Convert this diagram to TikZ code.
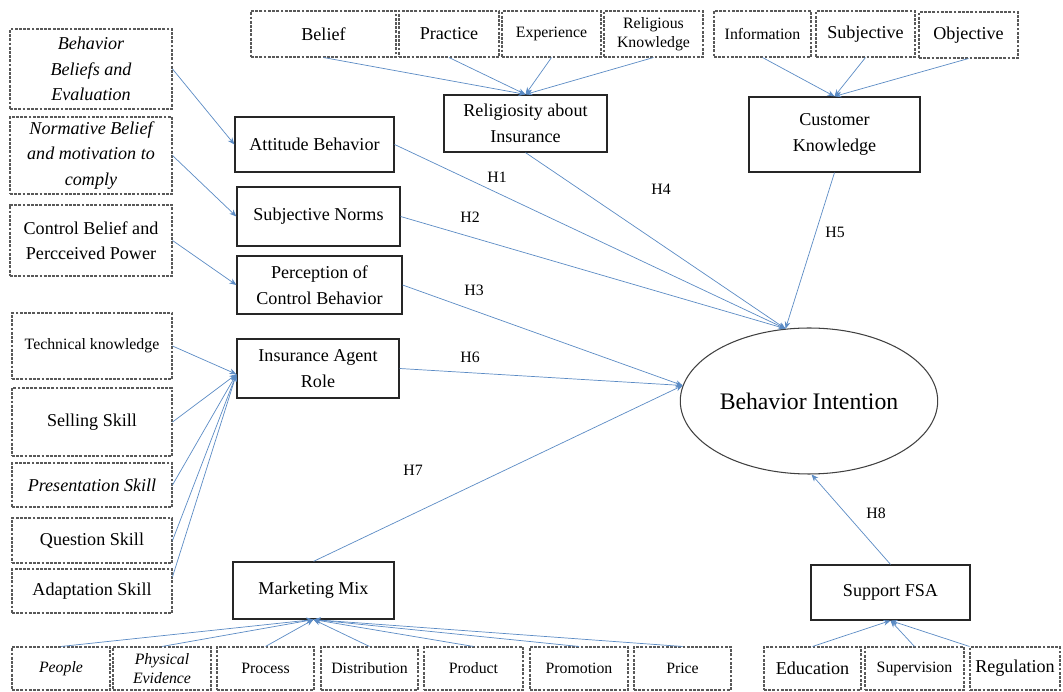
\documentclass[tikz,border=0pt]{standalone}
\usepackage{fontspec}
\setmainfont{Liberation Serif}
\usetikzlibrary{shapes.geometric,arrows.meta}
\definecolor{linkblue}{RGB}{91,139,196}

\begin{document}
\begin{tikzpicture}[x=0.02cm, y=-0.02cm,
        every node/.style={font=\fontsize{10.3}{14.5}\selectfont, align=center, inner sep=1pt},
        dbox/.style={draw=black!65, dashed, dash pattern=on 1.6pt off 0.8pt, line width=0.6pt},
        sbox/.style={draw=black!85, line width=0.7pt},
        itl/.style={font=\fontsize{10.3}{14.5}\selectfont\itshape},
        small/.style={font=\fontsize{9}{11}\selectfont},
        smallit/.style={font=\fontsize{9}{11}\selectfont\itshape},
        hlabel/.style={font=\fontsize{9}{10}\selectfont},
        link/.style={draw=linkblue, line width=0.4pt, -{Stealth[length=4pt, width=3.2pt]}}]
        \useasboundingbox (0,0) rectangle (1063,692);

        \node (bbe) [dbox, itl, minimum width=3.24cm, minimum height=1.6cm] at (91,69) {Behavior\\Beliefs and\\Evaluation};
        \node (nbm) [dbox, itl, minimum width=3.24cm, minimum height=1.54cm] at (91,155.5) {Normative Belief\\and motivation to\\comply};
        \node (cbp) [dbox, minimum width=3.24cm, minimum height=1.42cm] at (91,240.5) {Control Belief and\\Percceived Power};
        \node (tk) [dbox, small, minimum width=3.2cm, minimum height=1.32cm] at (92,346) {Technical knowledge};
        \node (ss) [dbox, minimum width=3.2cm, minimum height=1.36cm] at (92,422) {Selling Skill};
        \node (ps) [dbox, itl, minimum width=3.2cm, minimum height=0.88cm] at (92,485) {Presentation Skill};
        \node (qs) [dbox, minimum width=3.2cm, minimum height=0.9cm] at (92,540.5) {Question Skill};
        \node (as) [dbox, minimum width=3.2cm, minimum height=0.88cm] at (92,591) {Adaptation Skill};

        \node (ab) [sbox, minimum width=3.18cm, minimum height=1.1cm] at (314.5,144.5) {Attitude Behavior};
        \node (sn) [sbox, minimum width=3.26cm, minimum height=1.18cm] at (318.5,216.5) {Subjective Norms};
        \node (pcb) [sbox, minimum width=3.3cm, minimum height=1.16cm] at (319.5,285) {Perception of\\Control Behavior};
        \node (iar) [sbox, minimum width=3.24cm, minimum height=1.18cm] at (318,368.5) {Insurance Agent\\Role};
        \node (mm) [sbox, minimum width=3.22cm, minimum height=1.14cm] at (313.5,590.5) {Marketing Mix};

        \node (belief) [dbox, minimum width=2.9cm, minimum height=0.92cm] at (323.5,34) {Belief};
        \node (practice) [dbox, minimum width=2cm, minimum height=0.92cm] at (449,34) {Practice};
        \node (experience) [dbox, small, minimum width=1.98cm, minimum height=0.92cm] at (551.5,34) {Experience};
        \node (relknow) [dbox, small, minimum width=1.98cm, minimum height=0.92cm] at (653.5,34) {Religious\\Knowledge};
        \node (information) [dbox, small, minimum width=1.94cm, minimum height=0.92cm] at (762.5,34) {Information};
        \node (subjective) [dbox, minimum width=1.98cm, minimum height=0.92cm] at (865.5,34) {Subjective};
        \node (objective) [dbox, minimum width=1.98cm, minimum height=0.92cm] at (968.5,35) {Objective};

        \node (ria) [sbox, minimum width=3.26cm, minimum height=1.14cm] at (525.5,123.5) {Religiosity about\\Insurance};
        \node (ck) [sbox, minimum width=3.42cm, minimum height=1.5cm] at (834.5,134.5) {Customer\\Knowledge};

        \node (bi) [ellipse, draw=black!75, line width=0.6pt, minimum width=4.44cm, minimum height=2.92cm, font=\fontsize{13.5}{16}\selectfont] at (809,401) {Behavior Intention};

        \node (sfsa) [sbox, minimum width=3.18cm, minimum height=1.1cm] at (890.5,592.5) {Support FSA};

        \node (people) [dbox, smallit, minimum width=1.96cm, minimum height=0.86cm] at (61,668.5) {People};
        \node (physev) [dbox, smallit, minimum width=1.96cm, minimum height=0.86cm] at (162,668.5) {Physical\\Evidence};
        \node (process) [dbox, small, minimum width=1.94cm, minimum height=0.86cm] at (265.5,668.5) {Process};
        \node (distribution) [dbox, small, minimum width=1.94cm, minimum height=0.86cm] at (369.5,668.5) {Distribution};
        \node (product) [dbox, small, minimum width=1.98cm, minimum height=0.86cm] at (473.5,668.5) {Product};
        \node (promotion) [dbox, small, minimum width=1.96cm, minimum height=0.86cm] at (579,668.5) {Promotion};
        \node (price) [dbox, small, minimum width=1.94cm, minimum height=0.86cm] at (682.5,668.5) {Price};
        \node (education) [dbox, minimum width=1.94cm, minimum height=0.86cm] at (812.5,668.5) {Education};
        \node (supervision) [dbox, small, minimum width=1.98cm, minimum height=0.86cm] at (914.5,668.5) {Supervision};
        \node (regulation) [dbox, minimum width=1.8cm, minimum height=0.86cm] at (1015,668.5) {Regulation};

        \node (h1) [hlabel] at (497,177) {H1};
        \node (h2) [hlabel] at (470,217) {H2};
        \node (h3) [hlabel] at (474,290) {H3};
        \node (h4) [hlabel] at (661,189) {H4};
        \node (h5) [hlabel] at (835,232) {H5};
        \node (h6) [hlabel] at (470,357) {H6};
        \node (h7) [hlabel] at (413,470) {H7};
        \node (h8) [hlabel] at (876,513) {H8};

        \draw[link] (bbe.east) -- (ab.west);
        \draw[link] (nbm.east) -- (sn.west);
        \draw[link] (cbp.east) -- (pcb.west);
        \draw[link] (tk.east) -- (iar.184);
        \draw[link] (ss.east) -- (iar.184);
        \draw[link] (ps.east) -- (iar.184);
        \draw[link] (qs.east) -- (iar.184);
        \draw[link] (as.10) -- (iar.184);

        \draw[link] (belief.south) -- (ria.north);
        \draw[link] (practice.south) -- (ria.north);
        \draw[link] (experience.south) -- (ria.north);
        \draw[link] (relknow.south) -- (ria.north);
        \draw[link] (information.south) -- (ck.north);
        \draw[link] (subjective.south) -- (ck.north);
        \draw[link] (objective.south) -- (ck.north);

        \draw[link] (ab.east) -- (bi.108);
        \draw[link] (sn.east) -- (bi.108);
        \draw[link] (ria.south) -- (bi.108);
        \draw[link] (ck.south) -- (bi.108);
        \draw[link] (pcb.east) -- (bi.173);
        \draw[link] (iar.east) -- (bi.173);
        \draw[link] (mm.north) -- (bi.173);
        \draw[link] (sfsa.north) -- (bi.-88);

        \draw[link] (people.north) -- (mm.south);
        \draw[link] (physev.north) -- (mm.south);
        \draw[link] (process.north) -- (mm.south);
        \draw[link] (distribution.north) -- (mm.south);
        \draw[link] (product.north) -- (mm.south);
        \draw[link] (promotion.north) -- (mm.south);
        \draw[link] (price.north) -- (mm.south);
        \draw[link] (education.north) -- (sfsa.south);
        \draw[link] (supervision.north) -- (sfsa.south);
        \draw[link] (regulation.north west) -- (sfsa.south);
    \end{tikzpicture}
\end{document}
